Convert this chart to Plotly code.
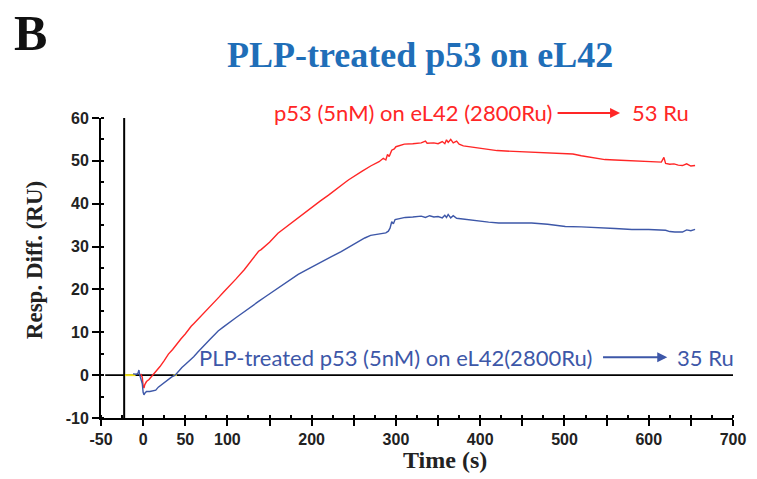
import plotly.graph_objects as go

# ---- data ----
red_x = [-3, -1, 0, 1, 2, 4, 7, 10, 13, 16, 20, 25, 30, 35, 40, 45, 50, 55, 57, 60, 65, 70, 75, 80, 85, 90, 95,
         100, 110, 120, 130, 137, 140, 150, 160, 170, 180, 184, 190, 200, 210, 220, 230, 240, 244, 250, 260,
         270, 280, 285, 288, 290, 292, 295, 298, 300, 305, 310, 320, 330, 335, 337, 345, 350, 355, 358, 360,
         362, 365, 368, 372, 375, 380, 390, 400, 410, 420, 430, 440, 450, 460, 470, 480, 490, 500, 510, 520,
         528, 535, 540, 548, 560, 570, 580, 590, 600, 610, 615, 618, 620, 625, 630, 635, 640, 645, 650, 655]
red_y = [0.3, -0.5, -2.5, -3.0, -2.2, -1.5, -1.0, -0.3, 0.3, 1.2, 2.0, 3.4, 4.9, 6.0, 7.3, 8.5, 9.6, 11.0, 11.4,
         12.0, 13.0, 14.0, 15.0, 16.2, 17.2, 18.2, 19.3, 20.3, 22.4, 24.6, 27.1, 28.9, 29.3, 31.0, 33.1, 34.6,
         36.2, 36.8, 37.8, 39.2, 40.6, 42.0, 43.6, 45.0, 45.6, 46.4, 47.6, 48.8, 49.8, 50.6, 50.2, 51.5, 51.0,
         52.5, 52.8, 53.3, 53.6, 53.9, 54.0, 54.2, 54.6, 54.1, 54.2, 54.0, 54.5, 54.0, 54.9, 54.3, 55.0, 54.2,
         54.6, 53.9, 53.5, 53.2, 52.9, 52.7, 52.4, 52.3, 52.2, 52.1, 52.0, 51.9, 51.8, 51.7, 51.7, 51.6, 51.2,
         50.9, 50.7, 50.5, 50.3, 50.2, 50.1, 50.0, 49.9, 49.8, 49.6, 49.7, 50.8, 49.4, 49.2, 49.3, 49.0, 48.9,
         49.3, 48.8, 48.9]

blue_x = [-12, -8, -6, -5, -4, -3, -1, 0, 1, 2, 4, 8, 12, 15, 18, 22, 26, 30, 34, 38, 42, 46, 50, 55, 57, 60,
          65, 70, 75, 80, 85, 89, 95, 100, 105, 110, 115, 121, 130, 137, 145, 155, 165, 175, 184, 195, 205, 215,
          224, 235, 245, 255, 263, 270, 280, 288, 291, 293, 295, 297, 299, 305, 311, 320, 330, 335, 340, 345,
          350, 355, 358, 360, 362, 365, 368, 372, 380, 390, 400, 410, 422, 440, 461, 480, 490, 501, 520, 541,
          560, 580, 600, 620, 625, 631, 640, 645, 650, 655]
blue_y = [0.3, 0.2, 0.5, 1.2, 0.0, -0.6, -2.0, -4.0, -4.6, -4.2, -3.8, -3.8, -3.7, -3.5, -2.8, -2.2, -1.5, -1.0,
          -0.4, 0.0, 1.0, 1.8, 2.5, 3.3, 3.7, 4.3, 5.4, 6.5, 7.4, 8.5, 9.5, 10.3, 11.2, 12.0, 12.7, 13.4, 14.1,
          14.9, 16.2, 17.2, 18.3, 19.6, 20.9, 22.3, 23.5, 24.7, 25.8, 26.8, 27.7, 28.8, 30.0, 31.0, 32.0, 32.6,
          33.0, 33.2, 33.6, 34.3, 35.8, 35.3, 36.3, 36.6, 36.8, 36.9, 37.1, 36.8, 37.2, 36.9, 37.0, 36.7, 37.3,
          36.8, 37.5, 36.7, 37.2, 36.6, 36.4, 36.1, 35.8, 35.7, 35.5, 35.5, 35.5, 35.2, 35.0, 34.7, 34.6, 34.3,
          34.2, 34.0, 34.0, 33.8, 33.5, 33.4, 33.4, 33.9, 33.7, 34.0]

zero_line_x = [-45, 700]
zero_line_y = [0, 0]
inject_line_x = [-22.5, -22.5]
inject_line_y = [-10, 60]
yellow1_x = [-21.5, -9]
yellow2_x = [36, 40]
yellow_y = [0, 0]

x_tickvals = [-50, 0, 50, 100, 150, 200, 250, 300, 350, 400, 450, 500, 550, 600, 650, 700]
x_ticktext = ["-50", "0", "50", "100", "", "200", "", "300", "", "400", "", "500", "", "600", "", "700"]
y_tickvals = [-10, 0, 10, 20, 30, 40, 50, 60]
y_ticktext = ["-10", "0", "10", "20", "30", "40", "50", "60"]

RED = "#FF2626"
BLUE = "#3D57A8"
TITLE_BLUE = "#1F6EB8"

fig = go.Figure()
fig.add_trace(go.Scatter(x=zero_line_x, y=zero_line_y, mode="lines", line=dict(color="black", width=1.6)))
fig.add_trace(go.Scatter(x=inject_line_x, y=inject_line_y, mode="lines", line=dict(color="black", width=2)))
fig.add_trace(go.Scatter(x=yellow1_x, y=yellow_y, mode="lines", line=dict(color="#F2E21B", width=2)))
fig.add_trace(go.Scatter(x=yellow2_x, y=yellow_y, mode="lines", line=dict(color="#F2E21B", width=2)))
fig.add_trace(go.Scatter(x=red_x, y=red_y, mode="lines", line=dict(color=RED, width=1.4)))
fig.add_trace(go.Scatter(x=blue_x, y=blue_y, mode="lines", line=dict(color=BLUE, width=1.4)))

tickfont = dict(family="Liberation Sans", size=16, color="#222222", weight="bold")

fig.update_xaxes(range=[-50, 700], showgrid=False, zeroline=False, showline=True, linecolor="black",
                 linewidth=2, ticks="outside", ticklen=6, tickwidth=2, tickcolor="black",
                 tickvals=x_tickvals, ticktext=x_ticktext, tickfont=tickfont,
                 minor=dict(ticks="inside", ticklen=3, tickwidth=2, tickcolor="black", dtick=25, tick0=-25))
fig.update_yaxes(range=[-10, 60], showgrid=False, zeroline=False, showline=True, linecolor="black",
                 linewidth=2, ticks="outside", ticklen=7, tickwidth=2, tickcolor="black",
                 tickvals=y_tickvals, ticktext=y_ticktext, tickfont=tickfont,
                 minor=dict(ticks="inside", ticklen=3, tickwidth=1.5, tickcolor="black", dtick=5, tick0=-5))

ann_font = "Lato"
annotations = [
    dict(text="B", xref="paper", yref="paper", x=-0.112, y=1.285, xanchor="center", yanchor="middle",
         showarrow=False, font=dict(family="Liberation Serif", size=50, color="#111111", weight="bold")),
    dict(text="PLP-treated p53 on eL42", xref="paper", yref="paper", x=0.505, y=1.21, xanchor="center",
         yanchor="middle", showarrow=False,
         font=dict(family="Liberation Serif", size=36, color=TITLE_BLUE, weight="bold")),
    dict(text="Resp. Diff. (RU)", xref="paper", yref="paper", x=-0.104, y=0.527, xanchor="center",
         yanchor="middle", showarrow=False, textangle=-90,
         font=dict(family="Liberation Serif", size=23, color="#222222", weight="bold")),
    dict(text="Time (s)", xref="paper", yref="paper", x=0.544, y=-0.14, xanchor="center", yanchor="middle",
         showarrow=False, font=dict(family="Liberation Serif", size=24, color="#222222", weight="bold")),
    dict(text="p53 (5nM) on eL42 (2800Ru)", x=487, xref="x", y=1.0167, yref="paper", xanchor="right",
         yanchor="middle", showarrow=False, font=dict(family=ann_font, size=22, color=RED)),
    dict(text="", x=566, y=1.0167, xref="x", yref="paper", ax=-64, ay=0, axref="pixel", ayref="pixel",
         showarrow=True, arrowhead=2, arrowsize=1, arrowwidth=2, arrowcolor=RED),
    dict(text="53 Ru", x=578, xref="x", y=1.0167, yref="paper", xanchor="left", yanchor="middle",
         showarrow=False, font=dict(family=ann_font, size=22, color=RED)),
    dict(text="PLP-treated p53 (5nM) on eL42(2800Ru)", x=535.6, y=4.2, xanchor="right", yanchor="middle",
         showarrow=False, font=dict(family=ann_font, size=22, color=BLUE)),
    dict(text="", x=622, y=4.2, ax=544, ay=4.2, axref="x", ayref="y", showarrow=True,
         arrowhead=2, arrowsize=1, arrowwidth=2, arrowcolor=BLUE),
    dict(text="35 Ru", x=631.7, y=4.2, xanchor="left", yanchor="middle", showarrow=False,
         font=dict(family=ann_font, size=22, color=BLUE)),
]

fig.update_layout(width=757, height=479, margin=dict(l=101, r=24, t=118, b=61),
                  plot_bgcolor="white", paper_bgcolor="white", showlegend=False,
                  annotations=annotations)

fig.write_html("out.html")
